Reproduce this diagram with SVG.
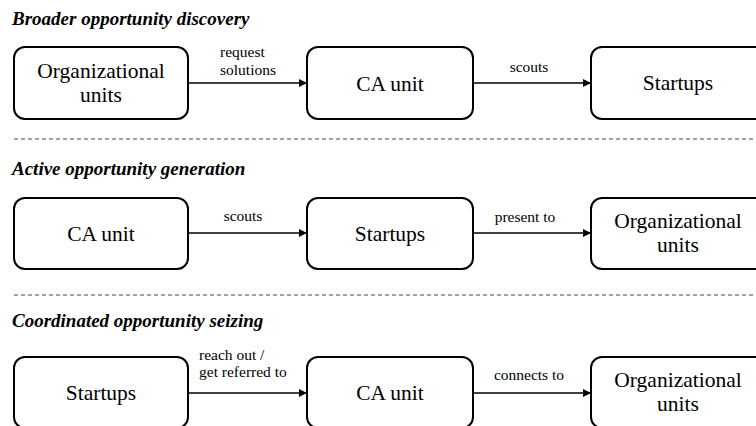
<svg xmlns="http://www.w3.org/2000/svg" width="756" height="426" viewBox="0 0 756 426">
<defs>
<style>
.box{fill:#fff;stroke:#000;stroke-width:2}
.nt{font-size:21.5px;fill:#000;text-anchor:middle}
.lb{font-size:15.5px;fill:#000}
.ttl{font-size:19px;font-weight:bold;font-style:italic;fill:#000}
.ln{stroke:#000;stroke-width:1.3;fill:none}
.dash{stroke:#444;stroke-width:1.2;stroke-dasharray:4 3;fill:none}
</style>
<marker id="ah" viewBox="0 0 10 10" refX="10" refY="5" markerWidth="8" markerHeight="8" markerUnits="userSpaceOnUse" orient="auto">
<path d="M0,0 L10,5 L0,10 z" fill="#000"/>
</marker>
</defs>
<rect width="756" height="426" fill="#fff"/>
<g font-family="Liberation Serif, DejaVu Serif, serif">
<g id="titles">
<text class="ttl" x="12" y="25">Broader opportunity discovery</text>
<text class="ttl" x="12" y="175">Active opportunity generation</text>
<text class="ttl" x="12" y="327">Coordinated opportunity seizing</text>
</g>
<g id="separators">
<line class="dash" x1="14" y1="139" x2="756" y2="139"/>
<line class="dash" x1="14" y1="295" x2="756" y2="295"/>
</g>
<g id="r1-org"><rect class="box" x="14" y="47" width="174" height="72" rx="11"/><text class="nt" x="101" y="78">Organizational</text><text class="nt" x="101" y="102">units</text></g>
<g id="r1-ca"><rect class="box" x="307" y="47" width="166" height="72" rx="11"/><text class="nt" x="390" y="91">CA unit</text></g>
<g id="r1-st"><rect class="box" x="591" y="47" width="176" height="72" rx="11"/><text class="nt" x="678" y="90">Startups</text></g>
<g id="r2-ca"><rect class="box" x="14" y="198" width="174" height="71" rx="11"/><text class="nt" x="101" y="241">CA unit</text></g>
<g id="r2-st"><rect class="box" x="307" y="198" width="166" height="71" rx="11"/><text class="nt" x="390" y="241">Startups</text></g>
<g id="r2-org"><rect class="box" x="591" y="198" width="176" height="71" rx="11"/><text class="nt" x="678" y="228">Organizational</text><text class="nt" x="678" y="252">units</text></g>
<g id="r3-st"><rect class="box" x="14" y="357" width="174" height="71" rx="11"/><text class="nt" x="101" y="400">Startups</text></g>
<g id="r3-ca"><rect class="box" x="307" y="357" width="166" height="71" rx="11"/><text class="nt" x="390" y="400">CA unit</text></g>
<g id="r3-org"><rect class="box" x="591" y="357" width="176" height="71" rx="11"/><text class="nt" x="678" y="387">Organizational</text><text class="nt" x="678" y="411">units</text></g>
<g id="connectors">
<line class="ln" x1="188" y1="83" x2="307" y2="83" marker-end="url(#ah)"/>
<line class="ln" x1="473" y1="83" x2="591" y2="83" marker-end="url(#ah)"/>
<line class="ln" x1="188" y1="233" x2="307" y2="233" marker-end="url(#ah)"/>
<line class="ln" x1="473" y1="233" x2="591" y2="233" marker-end="url(#ah)"/>
<line class="ln" x1="188" y1="393" x2="307" y2="393" marker-end="url(#ah)"/>
<line class="ln" x1="473" y1="393" x2="591" y2="393" marker-end="url(#ah)"/>
<text class="lb" x="220" y="57">request</text>
<text class="lb" x="220" y="75">solutions</text>
<text class="lb" x="529" y="72" text-anchor="middle">scouts</text>
<text class="lb" x="243" y="221" text-anchor="middle">scouts</text>
<text class="lb" x="525" y="222" text-anchor="middle">present to</text>
<text class="lb" x="199" y="360">reach out /</text>
<text class="lb" x="199" y="377">get referred to</text>
<text class="lb" x="529" y="380" text-anchor="middle">connects to</text>
</g>
</g>
</svg>
